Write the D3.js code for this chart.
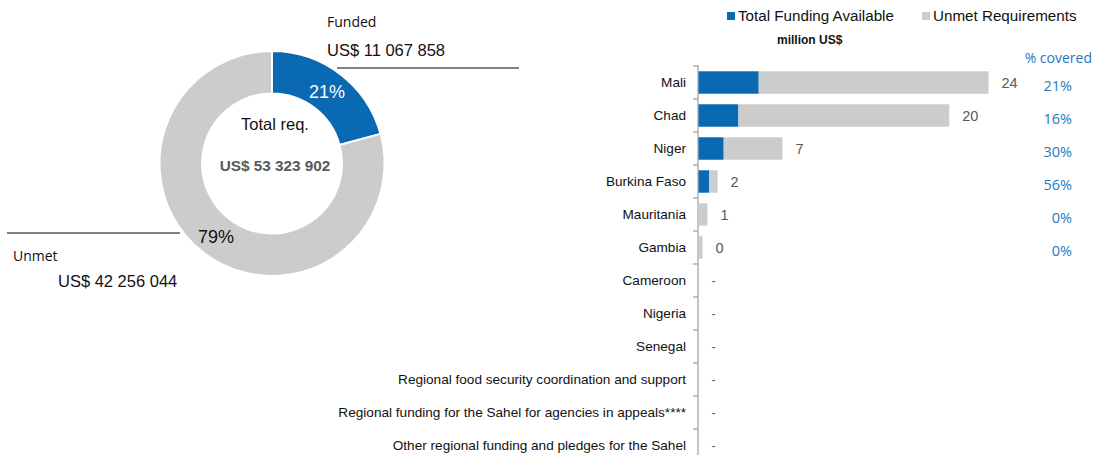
<!DOCTYPE html>
<html><head><meta charset="utf-8">
<script src="https://cdn.jsdelivr.net/npm/d3@7"></script>
<style>body{margin:0;background:#fff}svg{display:block}</style>
</head><body>
<svg id="c" width="1095" height="455"></svg>
<script>
// ---- data ----
const donutLabels = ["Funded", "Unmet"];
const donutValues = [11067858, 42256044];
const totalReq = "US$ 53 323 902";
const donutAmountText = ["US$ 11 067 858", "US$ 42 256 044"];

const categories = ["Mali","Chad","Niger","Burkina Faso","Mauritania","Gambia","Cameroon","Nigeria","Senegal",
  "Regional food security coordination and support",
  "Regional funding for the Sahel for agencies in appeals****",
  "Other regional funding and pledges for the Sahel"];
const funded = [4.9, 3.25, 2.05, 0.87, 0, 0, null, null, null, null, null, null];     // million US$
const unmet  = [18.7, 17.15, 4.78, 0.68, 0.73, 0.33, null, null, null, null, null, null];
const seriesNames = ["Total Funding Available", "Unmet Requirements"];

const BLUE = "#0a69b3", GREY = "#cccccc", PCT = "#1f78c1";
const svg = d3.select("#c");

// ---- donut ----
const cx = 272, cy = 163.5;
const pie = d3.pie().sort(null).value(d => d)(donutValues);
const arc = d3.arc().innerRadius(70).outerRadius(112.5);
const g = svg.append("g").attr("transform", `translate(${cx},${cy})`);
g.selectAll("path").data(pie).join("path")
  .attr("d", arc).attr("fill", (d,i) => i === 0 ? BLUE : GREY)
  .attr("stroke", "#fff").attr("stroke-width", 2);
const total = d3.sum(donutValues);
const pctFmt = v => Math.round(v / total * 100) + "%";
svg.append("text").attr("x", 309).attr("y", 98).attr("fill", "#fff")
  .attr("font-family", "Liberation Sans, Arial").attr("font-size", 18).text(pctFmt(donutValues[0]));
svg.append("text").attr("x", 198).attr("y", 243).attr("fill", "#111")
  .attr("font-family", "Liberation Sans, Arial").attr("font-size", 18).text(pctFmt(donutValues[1]));
svg.append("text").attr("x", cx + 3).attr("y", 129.5).attr("text-anchor", "middle").attr("fill", "#111")
  .attr("font-family", "Liberation Sans, Arial").attr("font-size", 16.5).text("Total req.");
svg.append("text").attr("x", cx + 3).attr("y", 171).attr("text-anchor", "middle").attr("fill", "#595959")
  .attr("font-family", "Liberation Sans, Arial").attr("font-weight", "bold").attr("font-size", 15.3).text(totalReq);
// callouts
svg.append("text").attr("x", 327).attr("y", 27).attr("fill", "#111")
  .attr("font-family", "Open Sans").attr("font-size", 14).text(donutLabels[0]);
svg.append("text").attr("x", 327).attr("y", 56).attr("fill", "#111")
  .attr("font-family", "Liberation Sans, Arial").attr("font-size", 16.5).text(donutAmountText[0]);
svg.append("line").attr("x1", 337).attr("x2", 519).attr("y1", 68).attr("y2", 68)
  .attr("stroke", "#595959").attr("stroke-width", 1.5);
svg.append("line").attr("x1", 7).attr("x2", 180).attr("y1", 233).attr("y2", 233)
  .attr("stroke", "#595959").attr("stroke-width", 1.5);
svg.append("text").attr("x", 13).attr("y", 261).attr("fill", "#111")
  .attr("font-family", "Open Sans").attr("font-size", 14).text(donutLabels[1]);
svg.append("text").attr("x", 58).attr("y", 287).attr("fill", "#111")
  .attr("font-family", "Liberation Sans, Arial").attr("font-size", 16.5).text(donutAmountText[1]);

// ---- bar chart ----
const x = d3.scaleLinear().domain([0, 25]).range([698.5, 698.5 + 25 * 12.29]);
const y = d3.scaleBand().domain(categories).range([66, 462]).paddingInner(0.32).paddingOuter(0.16);
const rows = categories.map((c, i) => ({c, f: funded[i], u: unmet[i]}));

// axis line with ticks at band boundaries
const axisG = svg.append("g");
axisG.append("line").attr("x1", 698).attr("x2", 698).attr("y1", 65).attr("y2", 462)
  .attr("stroke", "#a6a6a6").attr("stroke-width", 1.3);
const step = y.step();
d3.range(categories.length + 1).forEach(i => {
  const yy = 66 + i * step;
  axisG.append("line").attr("x1", 693).attr("x2", 698).attr("y1", yy).attr("y2", yy)
    .attr("stroke", "#a6a6a6").attr("stroke-width", 1.3);
});

const dataRows = rows.filter(r => r.f !== null);
svg.append("g").selectAll("rect.f").data(dataRows).join("rect")
  .attr("x", x(0)).attr("y", d => y(d.c)).attr("height", y.bandwidth())
  .attr("width", d => x(d.f) - x(0)).attr("fill", BLUE);
svg.append("g").selectAll("rect.u").data(dataRows).join("rect")
  .attr("x", d => x(d.f)).attr("y", d => y(d.c)).attr("height", y.bandwidth())
  .attr("width", d => x(d.f + d.u) - x(d.f)).attr("fill", GREY);

// category labels
svg.append("g").selectAll("text").data(rows).join("text")
  .attr("x", 686).attr("y", d => y(d.c) + y.bandwidth() / 2).attr("dy", "0.35em")
  .attr("text-anchor", "end").attr("fill", "#111")
  .attr("font-family", "Liberation Sans, Arial").attr("font-size", 13.6).text(d => d.c);

// value labels
svg.append("g").selectAll("text").data(rows).join("text")
  .attr("x", d => d.f === null ? 711.5 : x(d.f + d.u) + 13)
  .attr("y", d => y(d.c) + y.bandwidth() / 2).attr("dy", "0.35em")
  .attr("fill", "#595959").attr("font-family", "Liberation Sans, Arial")
  .attr("font-size", d => d.f === null ? 12 : 14.5)
  .text(d => d.f === null ? "-" : Math.round(d.f + d.u));

// % covered
svg.append("text").attr("x", 1092).attr("y", 63).attr("text-anchor", "end").attr("fill", PCT)
  .attr("font-family", "Open Sans").attr("font-size", 14).text("% covered");
svg.append("g").selectAll("text").data(dataRows).join("text")
  .attr("x", 1072).attr("y", d => y(d.c) + y.bandwidth() / 2 + 8)
  .attr("text-anchor", "end").attr("fill", PCT)
  .attr("font-family", "Open Sans").attr("font-size", 14.5)
  .text(d => Math.round(d.f / (d.f + d.u) * 100) + "%");

// legend
const leg = [{n: seriesNames[0], c: BLUE, x: 727}, {n: seriesNames[1], c: GREY, x: 922}];
const lg = svg.append("g").selectAll("g").data(leg).join("g");
lg.append("rect").attr("x", d => d.x).attr("y", 12).attr("width", 8).attr("height", 8).attr("fill", d => d.c);
lg.append("text").attr("x", d => d.x + 11).attr("y", 21).attr("fill", "#111")
  .attr("font-family", "Liberation Sans, Arial").attr("font-size", 15.2).text(d => d.n);
svg.append("text").attr("x", 777).attr("y", 44).attr("fill", "#111")
  .attr("font-family", "Liberation Sans, Arial").attr("font-weight", "bold").attr("font-size", 12).text("million US$");
</script>
</body></html>
